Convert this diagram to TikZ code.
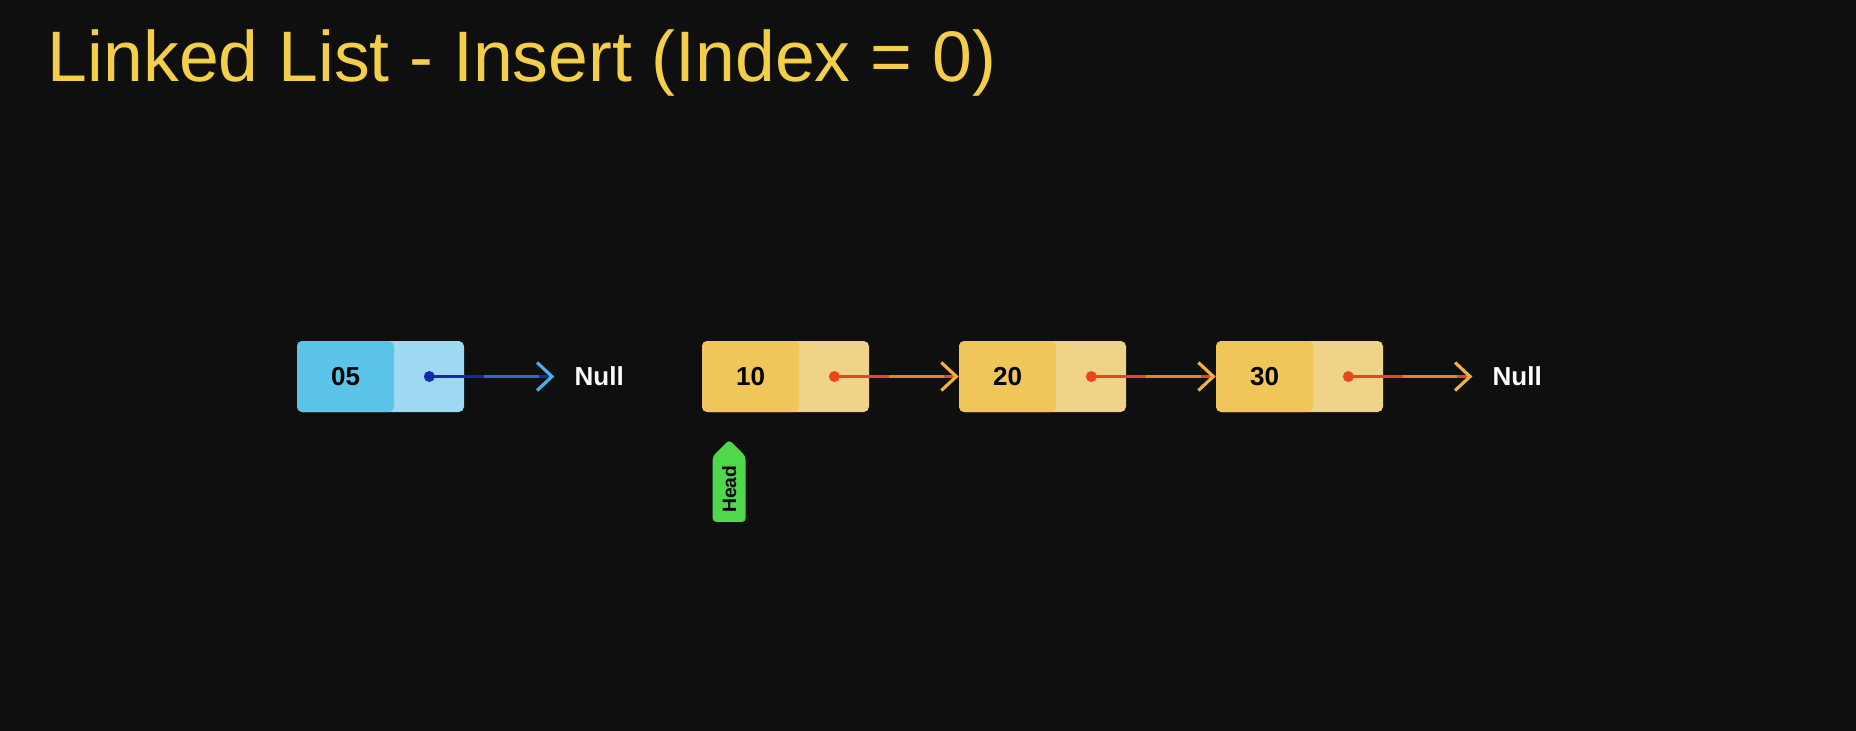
\documentclass[tikz,border=0pt]{standalone}
\usepackage{fontspec}
\setmainfont{Liberation Sans}
\usetikzlibrary{arrows.meta,positioning,calc,shapes.symbols}
\definecolor{bgdark}{HTML}{0F0F0F}
\definecolor{titleyellow}{HTML}{F3CE4B}
\definecolor{bluedata}{HTML}{5BC4E8}
\definecolor{bluenext}{HTML}{9DD9F1}
\definecolor{yeldata}{HTML}{F0C55A}
\definecolor{yelnext}{HTML}{EFD389}
\definecolor{headgreen}{HTML}{4FD84B}
\definecolor{ptrred}{HTML}{E8461C}
\definecolor{ptrorange}{HTML}{F07E22}
\definecolor{ptryellow}{HTML}{F3B23A}
\definecolor{ptrnavy}{HTML}{1428B4}
\definecolor{ptrblue}{HTML}{2A6AD8}
\definecolor{ptrsky}{HTML}{45B2EE}

\begin{document}
\begin{tikzpicture}[
  cell/.style={rounded corners=3pt,minimum width=3.34cm,minimum height=1.42cm,inner sep=0pt},
  datacell/.style={rounded corners=3pt,minimum width=1.94cm,minimum height=1.42cm,inner sep=0pt,anchor=west,text=black,font=\fontsize{14.8}{16}\selectfont\bfseries},
  link/.style={line width=1.8pt,draw=ptrred,-{Straight Barb[length=0.3cm,width=0.56cm,color=ptryellow]},postaction={draw=ptrorange,-,shorten <=1.1cm,shorten >=0.3cm}},
  bluelink/.style={line width=1.8pt,draw=ptrnavy,-{Straight Barb[length=0.3cm,width=0.56cm,color=ptrsky]},postaction={draw=ptrblue,-,shorten <=1.1cm,shorten >=0.3cm}},
  nulltext/.style={inner sep=0pt,text=white,font=\fontsize{14.8}{16}\selectfont\bfseries}
]
\useasboundingbox (0,0) rectangle (37.12,-14.6);
\fill[bgdark] (-0.1,0.1) rectangle (37.22,-14.7);

% Title
\node[anchor=base west,inner sep=0pt,text=titleyellow,font=\fontsize{40.7}{48}\selectfont] (title) at (0.95,-1.62) {Linked List - Insert (Index = 0)};

% New node
\node[cell,fill=bluenext] (n05) at (7.61,-7.53) {};
\node[datacell,fill=bluedata] (n05d) at (n05.west) {05};

% List nodes
\node[cell,fill=yelnext] (n10) at (15.71,-7.53) {};
\node[datacell,fill=yeldata] (n10d) at (n10.west) {10};
\node[cell,fill=yelnext] (n20) at (20.85,-7.53) {};
\node[datacell,fill=yeldata] (n20d) at (n20.west) {20};
\node[cell,fill=yelnext] (n30) at (25.99,-7.53) {};
\node[datacell,fill=yeldata] (n30d) at (n30.west) {30};

% Pointers
\coordinate (p05) at ($(n05d.east)!0.5!(n05.east)$);
\coordinate (p10) at ($(n10d.east)!0.5!(n10.east)$);
\coordinate (p20) at ($(n20d.east)!0.5!(n20.east)$);
\coordinate (p30) at ($(n30d.east)!0.5!(n30.east)$);
\coordinate (e05) at ($(p05)+(2.5,0)$);
\coordinate (e30) at ($(p30)+(2.48,0)$);
\node[nulltext,right=0.4cm of e05] (null05) {Null};
\node[nulltext,right=0.4cm of e30] (null30) {Null};

\draw[bluelink] (p05) -- (e05);
\draw[link] (p10) -- (n20.west);
\draw[link] (p20) -- (n30.west);
\draw[link] (p30) -- (e30);
\fill[ptrnavy] (p05) circle (0.11);
\fill[ptrred] (p10) circle (0.11);
\fill[ptrred] (p20) circle (0.11);
\fill[ptrred] (p30) circle (0.11);

% Head tag
\node[signal,signal to=east,rotate=90,fill=headgreen,minimum width=1.64cm,minimum height=0.66cm,inner sep=0pt,anchor=east,rounded corners=2pt,text=black,font=\fontsize{11}{12}\selectfont\bfseries] (head) at ($(n10.south west)+(0.55,-0.54)$) {Head};
\end{tikzpicture}
\end{document}
